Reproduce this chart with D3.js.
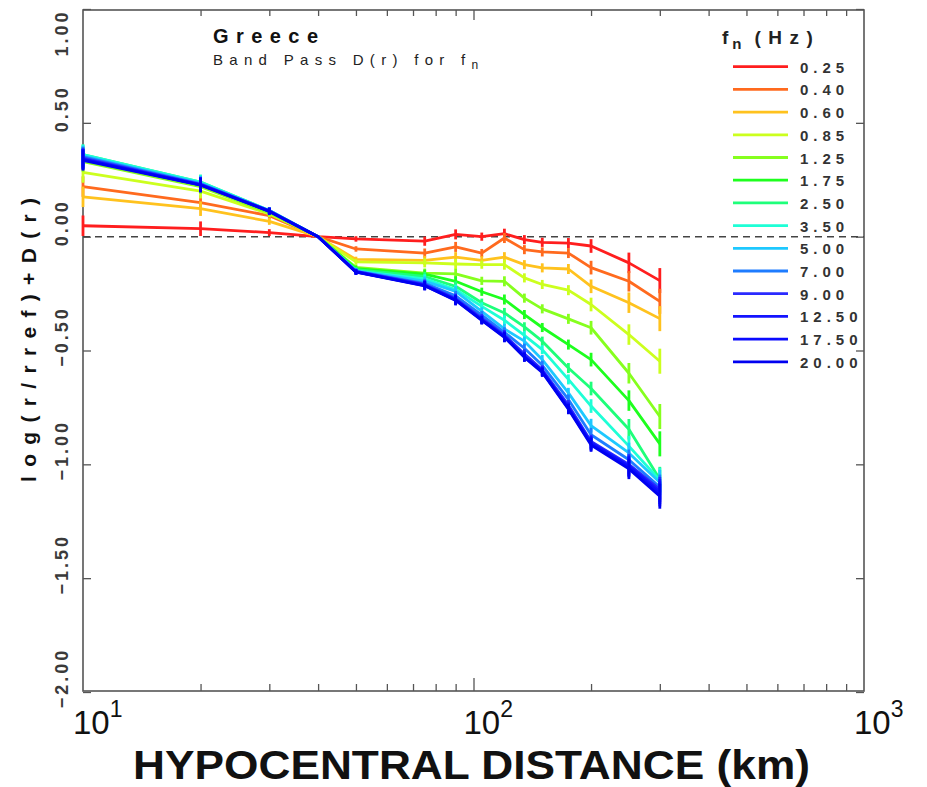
<!DOCTYPE html>
<html lang="en">
<head>
<meta charset="utf-8">
<title>Greece band pass D(r)</title>
<script src="https://cdn.jsdelivr.net/npm/d3@7"></script>
<style>
  body { margin: 0; background: #fff; }
  text { font-family: "Liberation Sans", Arial, Helvetica, sans-serif; }
</style>
</head>
<body>
<script>
// hypocentral distances (km)
var distances = [10, 20, 30, 40, 50, 75, 90, 105, 120, 135, 150, 175, 200, 250, 300];

// band-pass centre frequencies (Hz)
var freqs = ["0.25", "0.40", "0.60", "0.85", "1.25", "1.75", "2.50", "3.50",
             "5.00", "7.00", "9.00", "12.50", "17.50", "20.00"];

var colors = ["#ff1e1e", "#ff6a1e", "#ffc21e", "#ccff1e", "#86ff1e", "#1eff1e", "#1eff7a",
              "#1effd6", "#1ec8ff", "#1e7cff", "#2a2aff", "#1414ff", "#0a0aff", "#0000f0"];

// log(r/rref)+D(r), one array per frequency
var f025  = [0.048, 0.035, 0.018, 0, -0.010, -0.020, 0.010, 0.000, 0.013, -0.013, -0.025, -0.028, -0.041, -0.115, -0.193];
var f040  = [0.220, 0.150, 0.092, 0, -0.054, -0.072, -0.045, -0.072, -0.006, -0.057, -0.067, -0.072, -0.136, -0.196, -0.284];
var f060  = [0.175, 0.123, 0.067, 0, -0.100, -0.104, -0.090, -0.104, -0.090, -0.123, -0.137, -0.142, -0.218, -0.290, -0.360];
var f085  = [0.282, 0.200, 0.100, 0, -0.111, -0.115, -0.120, -0.123, -0.123, -0.181, -0.210, -0.235, -0.298, -0.430, -0.547];
var f125  = [0.330, 0.220, 0.105, 0, -0.135, -0.160, -0.163, -0.194, -0.196, -0.270, -0.317, -0.361, -0.400, -0.600, -0.790];
var f175  = [0.350, 0.235, 0.113, 0, -0.140, -0.165, -0.196, -0.242, -0.276, -0.342, -0.399, -0.474, -0.540, -0.720, -0.910];
var f250  = [0.360, 0.240, 0.115, 0, -0.145, -0.175, -0.218, -0.290, -0.335, -0.396, -0.459, -0.577, -0.667, -0.846, -1.066];
var f350  = [0.360, 0.240, 0.115, 0, -0.150, -0.185, -0.232, -0.306, -0.367, -0.434, -0.496, -0.627, -0.744, -0.920, -1.070];
var f500  = [0.355, 0.235, 0.115, 0, -0.150, -0.195, -0.240, -0.328, -0.405, -0.459, -0.540, -0.686, -0.830, -0.950, -1.080];
var f700  = [0.350, 0.232, 0.114, 0, -0.152, -0.205, -0.260, -0.345, -0.420, -0.490, -0.565, -0.715, -0.870, -0.980, -1.100];
var f900  = [0.345, 0.230, 0.113, 0, -0.153, -0.210, -0.272, -0.358, -0.432, -0.515, -0.585, -0.740, -0.900, -1.000, -1.110];
var f1250 = [0.340, 0.228, 0.112, 0, -0.155, -0.213, -0.276, -0.364, -0.437, -0.525, -0.590, -0.750, -0.905, -1.007, -1.120];
var f1750 = [0.340, 0.228, 0.112, 0, -0.155, -0.215, -0.278, -0.366, -0.440, -0.528, -0.593, -0.755, -0.910, -1.012, -1.130];
var f2000 = [0.335, 0.226, 0.111, 0, -0.156, -0.216, -0.280, -0.368, -0.442, -0.530, -0.596, -0.758, -0.915, -1.020, -1.140];

var series = [f025, f040, f060, f085, f125, f175, f250, f350, f500, f700, f900, f1250, f1750, f2000];

// half length of the error bars at each distance
var errs = [0.045, 0.032, 0.015, 0, 0.012, 0.02, 0.022, 0.018, 0.022, 0.02, 0.02, 0.022, 0.03, 0.045, 0.055];

var yTicks = [1, 0.5, 0, -0.5, -1, -1.5, -2];
var xMajor = [10, 100, 1000];
var xMinor = [20, 30, 40, 50, 60, 70, 80, 90, 200, 300, 400, 500, 600, 700, 800, 900];

var width = 927, height = 787;
var pLeft = 83, pRight = 864, pTop = 10, pBottom = 691;

var x = d3.scaleLog().domain([10, 1000]).range([pLeft, pRight]);
var y = d3.scaleLinear().domain([-2, 1]).range([692, 9]);

var svg = d3.select("body").append("svg")
    .attr("width", width)
    .attr("height", height);

svg.append("rect").attr("width", width).attr("height", height).attr("fill", "#fff");

// inward ticks on all four sides
function ticks(axis, tx, ty) {
  var g = svg.append("g").attr("transform", "translate(" + tx + "," + ty + ")").call(axis);
  g.select(".domain").remove();
  g.selectAll("line").attr("stroke", "#555").attr("stroke-width", 1.3);
}
ticks(d3.axisBottom(x).tickValues(xMinor).tickSize(-7).tickFormat(""), 0, pBottom);
ticks(d3.axisBottom(x).tickValues([100]).tickSize(-13).tickFormat(""), 0, pBottom);
ticks(d3.axisTop(x).tickValues(xMinor).tickSize(-6).tickFormat(""), 0, pTop);
ticks(d3.axisTop(x).tickValues([100]).tickSize(-10).tickFormat(""), 0, pTop);
ticks(d3.axisLeft(y).tickValues(yTicks).tickSize(-8).tickFormat(""), pLeft, 0);
ticks(d3.axisRight(y).tickValues(yTicks).tickSize(-8).tickFormat(""), pRight, 0);

svg.append("rect")
    .attr("x", pLeft).attr("y", pTop)
    .attr("width", pRight - pLeft).attr("height", pBottom - pTop)
    .attr("fill", "none").attr("stroke", "#555").attr("stroke-width", 1.6);

// zero reference line
svg.append("line")
    .attr("x1", pLeft).attr("x2", pRight)
    .attr("y1", y(0)).attr("y2", y(0))
    .attr("stroke", "#444").attr("stroke-width", 1.5)
    .attr("stroke-dasharray", "7,5");

// y tick labels (rotated)
var fmt = d3.format(".2f");
svg.selectAll(".ylab")
    .data(yTicks)
  .enter().append("text")
    .attr("class", "ylab")
    .attr("transform", function(d) { return "translate(68," + Math.max(y(d) - 14, 33) + ")rotate(-90)"; })
    .attr("text-anchor", "middle")
    .attr("font-size", 18)
    .attr("font-weight", "bold")
    .attr("letter-spacing", 3)
    .attr("fill", "#3a3a3a")
    .text(fmt);

// x tick labels, 10^n
var xl = svg.selectAll(".xlab")
    .data(xMajor)
  .enter().append("text")
    .attr("class", "xlab")
    .attr("x", function(d) { return x(d) - 10; })
    .attr("y", 734)
    .attr("font-size", 33)
    .attr("fill", "#111");
xl.append("tspan").text("10");
xl.append("tspan")
    .attr("dy", -17)
    .attr("font-size", 23)
    .text(function(d) { return Math.round(Math.log10(d)); });

// axis titles
svg.append("text")
    .attr("x", 133).attr("y", 779)
    .attr("font-size", 41).attr("font-weight", "bold").attr("fill", "#111")
    .attr("textLength", 677).attr("lengthAdjust", "spacingAndGlyphs")
    .text("HYPOCENTRAL DISTANCE (km)");

svg.append("text")
    .attr("transform", "translate(36,340)rotate(-90)")
    .attr("text-anchor", "middle")
    .attr("font-size", 21).attr("font-weight", "bold").attr("fill", "#111")
    .attr("textLength", 284).attr("lengthAdjust", "spacing")
    .text("log(r/rref)+D(r)");

// title
svg.append("text")
    .attr("x", 213).attr("y", 43)
    .attr("font-size", 20).attr("font-weight", "bold").attr("fill", "#111")
    .attr("textLength", 105).attr("lengthAdjust", "spacing")
    .text("Greece");
var sub = svg.append("text")
    .attr("x", 213).attr("y", 65)
    .attr("font-size", 15).attr("fill", "#222")
    .attr("letter-spacing", 6.3);
sub.append("tspan").text("Band Pass D(r) for f");
sub.append("tspan").attr("dy", 4).attr("font-size", 12).text("n");

// data lines with error bars
var line = d3.line()
    .x(function(d, i) { return x(distances[i]); })
    .y(function(d) { return y(d); });

var g = svg.selectAll(".band")
    .data(series)
  .enter().append("g")
    .attr("class", "band")
    .attr("stroke", function(d, i) { return colors[i]; })
    .attr("stroke-width", 2.8);

g.append("path")
    .attr("d", line)
    .attr("fill", "none")
    .attr("stroke-linejoin", "round");

g.selectAll("line")
    .data(function(s) {
      return s.map(function(v, i) { return {r: distances[i], v: v, e: errs[i]}; })
              .filter(function(p) { return p.e > 0; });
    })
  .enter().append("line")
    .attr("x1", function(p) { return x(p.r); })
    .attr("x2", function(p) { return x(p.r); })
    .attr("y1", function(p) { return y(p.v + p.e); })
    .attr("y2", function(p) { return y(p.v - p.e); });

// legend
var lg = svg.append("g");
var head = lg.append("text")
    .attr("x", 722).attr("y", 44)
    .attr("font-size", 19).attr("font-weight", "bold").attr("fill", "#222");
head.append("tspan").text("f");
head.append("tspan").attr("dy", 5).attr("dx", 4).attr("font-size", 15).text("n");
head.append("tspan").attr("dy", -5).attr("dx", 13).attr("letter-spacing", 7.5).text("(Hz)");

var item = lg.selectAll(".item")
    .data(freqs)
  .enter().append("g")
    .attr("class", "item")
    .attr("transform", function(d, i) { return "translate(0," + (66.7 + i * 22.7) + ")"; });
item.append("line")
    .attr("x1", 733).attr("x2", 788)
    .attr("stroke", function(d, i) { return colors[i]; })
    .attr("stroke-width", 2.8);
item.append("text")
    .attr("x", 800).attr("y", 6)
    .attr("font-size", 15).attr("font-weight", "bold").attr("fill", "#333")
    .attr("letter-spacing", 5)
    .text(function(d) { return d; });
</script>
</body>
</html>
